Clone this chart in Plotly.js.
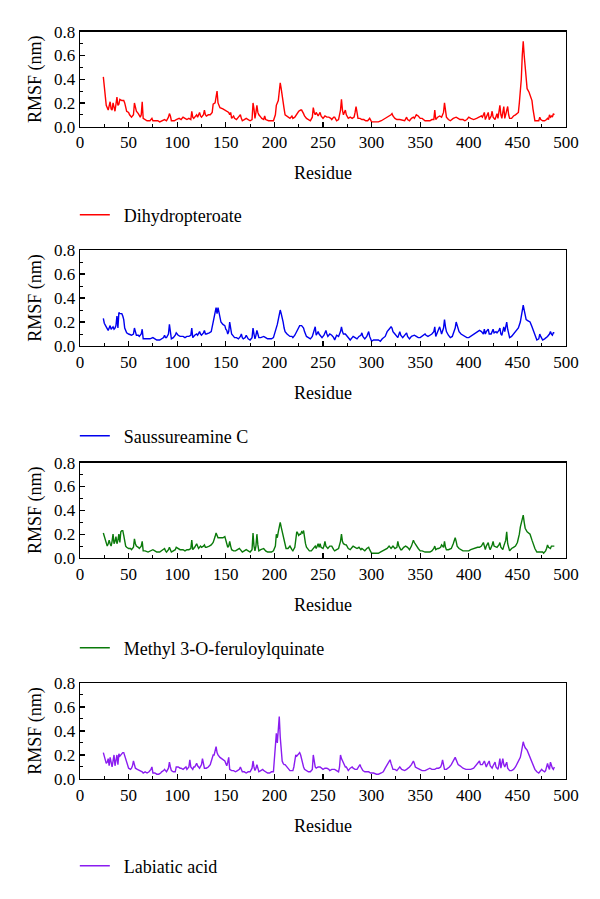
<!DOCTYPE html>
<html>
<head>
<meta charset="utf-8">
<script src="https://cdn.plot.ly/plotly-3.0.1.min.js"></script>
<style>html,body{margin:0;padding:0;background:#fff;}#chart{width:600px;height:899px;}</style>
</head>
<body>
<div id="chart"></div>
<script>
// [residue, RMSF (nm)] readings
const dihydropteroate = [[24,.42],[26,.25],[27,.18],[29,.14],[31,.21],[32,.15],[33,.14],[34,.20],[36,.13],[38,.25],[39,.18],[40,.19],[41,.23],[43,.22],[45,.22],[46,.2],[47,.15],[48,.13],[50,.12],[51,.1],[53,.08],[54,.09],[55,.1],[56,.2],[57,.15],[58,.13],[60,.11],[62,.08],[63,.1],[64,.21],[65,.07],[67,.06],[69,.05],[72,.05],[74,.07],[75,.05],[77,.05],[80,.05],[82,.04],[85,.05],[87,.06],[89,.05],[91,.08],[92,.11],[93,.09],[94,.05],[97,.05],[99,.06],[102,.07],[104,.06],[106,.08],[108,.07],[110,.06],[112,.07],[114,.06],[115,.13],[116,.08],[117,.07],[119,.09],[120,.1],[121,.08],[123,.12],[124,.09],[125,.08],[127,.1],[128,.14],[129,.1],[130,.09],[132,.1],[134,.1],[136,.12],[137,.19],[139,.2],[140,.25],[141,.3],[142,.2],[143,.17],[144,.16],[147,.15],[149,.14],[151,.13],[153,.12],[154,.1],[155,.12],[156,.07],[158,.09],[159,.07],[161,.06],[163,.08],[165,.1],[166,.07],[167,.05],[169,.06],[171,.07],[173,.06],[175,.05],[177,.06],[178,.2],[179,.15],[180,.07],[181,.12],[182,.18],[183,.12],[184,.1],[186,.08],[187,.07],[189,.06],[190,.09],[191,.06],[194,.05],[197,.05],[199,.05],[201,.1],[202,.18],[204,.22],[205,.3],[206,.37],[207,.32],[208,.25],[209,.2],[210,.15],[211,.1],[213,.09],[215,.08],[216,.07],[218,.09],[219,.07],[221,.08],[223,.11],[225,.13],[227,.14],[228,.14],[230,.11],[231,.09],[233,.07],[235,.06],[237,.05],[239,.08],[240,.16],[241,.12],[242,.1],[243,.12],[245,.09],[247,.12],[248,.09],[250,.07],[252,.09],[254,.08],[256,.08],[258,.07],[259,.06],[261,.08],[262,.08],[264,.05],[266,.06],[268,.14],[269,.23],[270,.14],[271,.1],[273,.14],[274,.1],[276,.07],[278,.08],[280,.07],[282,.08],[283,.12],[284,.17],[285,.12],[286,.07],[288,.07],[290,.06],[292,.06],[294,.05],[296,.05],[298,.07],[300,.04],[303,.04],[305,.04],[307,.04],[310,.05],[312,.06],[315,.07],[318,.09],[320,.1],[321,.11],[322,.09],[324,.07],[326,.06],[329,.06],[332,.05],[334,.05],[336,.08],[337,.06],[339,.05],[341,.07],[343,.08],[344,.07],[346,.1],[348,.09],[350,.07],[352,.07],[355,.05],[358,.05],[360,.05],[362,.06],[364,.06],[365,.14],[366,.06],[368,.08],[370,.09],[372,.08],[374,.12],[375,.2],[376,.12],[377,.08],[379,.06],[381,.05],[384,.07],[387,.08],[389,.07],[391,.06],[394,.06],[396,.05],[398,.06],[400,.08],[402,.07],[405,.06],[408,.07],[411,.08],[413,.09],[414,.08],[416,.12],[417,.06],[418,.08],[419,.09],[420,.12],[421,.06],[423,.09],[424,.13],[425,.08],[427,.06],[428,.09],[429,.11],[430,.07],[431,.12],[432,.18],[433,.1],[434,.07],[435,.12],[436,.17],[437,.07],[438,.1],[439,.12],[440,.17],[441,.1],[442,.07],[444,.07],[446,.09],[448,.1],[450,.11],[451,.12],[452,.2],[454,.4],[455,.6],[456,.72],[457,.6],[458,.5],[459,.4],[460,.32],[462,.29],[463,.27],[465,.22],[466,.15],[467,.08],[468,.05],[470,.05],[472,.05],[473,.08],[474,.06],[476,.05],[478,.05],[480,.06],[481,.07],[482,.06],[483,.1],[484,.08],[485,.09],[486,.08],[487,.11],[488,.1]];

const saussureamineC = [[24,.23],[25,.19],[27,.16],[29,.13],[30,.15],[31,.17],[32,.14],[33,.15],[34,.16],[35,.14],[36,.15],[37,.17],[38,.25],[39,.15],[40,.28],[41,.27],[42,.27],[43,.27],[44,.25],[45,.22],[46,.15],[47,.12],[48,.11],[50,.1],[52,.09],[53,.09],[55,.1],[56,.15],[57,.12],[58,.09],[60,.09],[61,.08],[63,.1],[64,.14],[65,.06],[67,.06],[70,.06],[72,.06],[75,.07],[77,.06],[79,.05],[82,.05],[84,.06],[86,.07],[87,.09],[88,.07],[89,.07],[91,.1],[92,.18],[93,.13],[94,.06],[96,.07],[98,.09],[99,.11],[101,.09],[103,.08],[106,.08],[108,.07],[110,.08],[112,.08],[114,.09],[115,.15],[116,.07],[118,.09],[120,.1],[121,.09],[123,.12],[124,.1],[125,.09],[127,.11],[128,.13],[129,.1],[130,.1],[133,.11],[135,.12],[137,.2],[138,.25],[139,.3],[140,.32],[141,.27],[142,.32],[143,.28],[144,.22],[145,.2],[147,.18],[149,.17],[150,.14],[151,.13],[152,.1],[153,.12],[154,.2],[155,.13],[156,.1],[158,.08],[159,.07],[161,.07],[163,.06],[165,.08],[166,.1],[167,.07],[168,.06],[170,.07],[171,.09],[173,.06],[175,.05],[177,.07],[178,.15],[179,.1],[180,.06],[181,.09],[182,.13],[183,.1],[184,.07],[186,.07],[188,.08],[189,.08],[191,.07],[193,.06],[195,.06],[197,.06],[199,.07],[201,.12],[203,.18],[204,.22],[205,.27],[206,.3],[207,.27],[208,.24],[209,.2],[210,.15],[211,.12],[213,.1],[215,.09],[216,.08],[218,.08],[219,.07],[221,.09],[223,.12],[225,.15],[226,.17],[228,.17],[230,.15],[231,.12],[233,.08],[235,.07],[237,.06],[239,.08],[241,.14],[242,.16],[243,.09],[245,.12],[246,.1],[248,.08],[249,.07],[251,.09],[253,.13],[254,.1],[255,.08],[257,.1],[259,.09],[261,.07],[262,.05],[264,.09],[266,.08],[268,.12],[269,.16],[270,.12],[271,.1],[273,.1],[274,.09],[276,.07],[278,.05],[280,.07],[281,.08],[283,.07],[285,.06],[287,.08],[289,.09],[290,.11],[291,.08],[293,.06],[295,.08],[297,.12],[298,.08],[300,.04],[302,.05],[305,.05],[307,.05],[309,.04],[311,.06],[314,.08],[316,.12],[318,.14],[320,.16],[321,.15],[322,.12],[324,.1],[326,.08],[327,.07],[329,.12],[330,.09],[332,.07],[334,.09],[336,.11],[337,.08],[339,.06],[341,.08],[344,.09],[346,.08],[348,.07],[350,.07],[352,.08],[355,.1],[356,.09],[358,.08],[360,.09],[362,.1],[364,.12],[365,.16],[366,.08],[368,.12],[370,.16],[371,.13],[372,.1],[374,.15],[375,.22],[376,.16],[377,.12],[379,.09],[381,.07],[383,.08],[384,.1],[386,.15],[387,.2],[388,.17],[390,.12],[392,.1],[394,.09],[396,.08],[398,.07],[400,.07],[402,.08],[405,.1],[407,.11],[409,.12],[411,.13],[413,.12],[415,.1],[416,.14],[417,.1],[418,.12],[420,.14],[421,.1],[423,.1],[424,.12],[425,.14],[426,.11],[428,.12],[429,.11],[431,.13],[432,.15],[433,.1],[434,.09],[435,.12],[436,.16],[437,.12],[439,.2],[440,.14],[442,.07],[444,.08],[446,.1],[448,.12],[450,.14],[451,.15],[453,.2],[454,.25],[455,.3],[456,.34],[457,.3],[458,.25],[459,.22],[461,.21],[463,.2],[465,.16],[466,.14],[468,.1],[470,.05],[472,.06],[473,.1],[474,.08],[476,.05],[478,.06],[480,.07],[481,.08],[483,.1],[484,.12],[485,.1],[486,.09],[487,.11],[488,.11]];

const methylFeruloylquinate = [[24,.21],[25,.18],[27,.13],[28,.1],[29,.12],[30,.15],[31,.12],[32,.1],[33,.14],[34,.2],[35,.12],[36,.14],[37,.18],[38,.12],[39,.15],[40,.2],[41,.13],[42,.22],[43,.23],[44,.23],[45,.19],[46,.13],[47,.1],[48,.09],[50,.08],[52,.08],[53,.07],[55,.09],[56,.16],[57,.12],[58,.1],[60,.09],[61,.08],[63,.1],[64,.14],[65,.06],[67,.06],[70,.05],[72,.06],[75,.07],[77,.06],[79,.05],[82,.05],[84,.06],[86,.07],[87,.08],[88,.06],[89,.05],[91,.07],[92,.09],[93,.07],[94,.05],[96,.06],[98,.07],[99,.09],[101,.08],[103,.07],[106,.07],[108,.06],[110,.07],[112,.07],[114,.08],[115,.15],[116,.07],[118,.09],[120,.12],[121,.09],[122,.08],[124,.1],[125,.09],[127,.1],[128,.11],[129,.09],[130,.09],[133,.1],[135,.11],[137,.13],[138,.15],[139,.18],[140,.21],[141,.19],[142,.17],[143,.17],[145,.17],[147,.17],[149,.18],[150,.14],[151,.1],[152,.09],[153,.1],[154,.14],[155,.1],[156,.07],[158,.06],[160,.06],[162,.07],[164,.08],[165,.07],[167,.05],[169,.06],[171,.07],[173,.06],[175,.05],[177,.07],[178,.21],[179,.1],[180,.06],[181,.1],[182,.2],[183,.11],[184,.06],[186,.07],[188,.08],[189,.08],[191,.06],[193,.05],[195,.05],[197,.05],[199,.06],[201,.1],[202,.2],[203,.17],[204,.22],[205,.27],[206,.3],[207,.26],[208,.22],[209,.18],[210,.13],[211,.1],[212,.08],[214,.08],[215,.09],[216,.1],[218,.07],[219,.06],[221,.09],[222,.17],[223,.22],[224,.21],[225,.19],[226,.2],[227,.2],[228,.22],[229,.21],[230,.23],[231,.16],[232,.12],[233,.09],[235,.07],[236,.06],[238,.06],[240,.08],[242,.1],[243,.08],[245,.12],[246,.09],[247,.12],[248,.09],[250,.08],[251,.1],[252,.14],[253,.1],[255,.08],[257,.1],[259,.1],[261,.07],[262,.06],[264,.07],[266,.08],[268,.14],[269,.2],[270,.14],[271,.12],[273,.11],[274,.11],[276,.08],[278,.07],[280,.09],[281,.1],[283,.09],[285,.08],[287,.09],[289,.07],[290,.08],[292,.07],[293,.06],[295,.08],[297,.09],[298,.07],[300,.04],[302,.04],[305,.04],[307,.04],[309,.05],[312,.06],[314,.07],[316,.08],[318,.1],[320,.08],[321,.09],[322,.1],[324,.08],[326,.09],[327,.14],[328,.1],[330,.07],[331,.07],[333,.09],[335,.1],[337,.09],[339,.07],[341,.1],[343,.15],[344,.13],[346,.1],[348,.08],[350,.06],[352,.06],[355,.05],[358,.05],[360,.05],[362,.06],[364,.08],[365,.1],[366,.07],[368,.08],[369,.08],[371,.09],[372,.11],[374,.09],[375,.14],[376,.09],[377,.07],[379,.07],[381,.08],[382,.08],[384,.12],[386,.17],[387,.14],[388,.1],[390,.08],[392,.07],[394,.06],[396,.06],[398,.06],[400,.06],[402,.07],[405,.08],[407,.08],[409,.09],[411,.09],[413,.1],[415,.13],[416,.09],[417,.07],[418,.1],[420,.13],[421,.09],[422,.07],[424,.11],[425,.14],[426,.1],[428,.09],[429,.09],[431,.11],[432,.13],[433,.09],[435,.07],[436,.1],[437,.12],[438,.15],[439,.22],[440,.12],[442,.06],[444,.08],[446,.09],[448,.1],[450,.13],[451,.16],[452,.2],[453,.26],[454,.3],[455,.33],[456,.36],[457,.3],[458,.25],[460,.22],[462,.21],[463,.2],[465,.15],[466,.12],[468,.08],[470,.05],[472,.05],[474,.05],[476,.05],[477,.04],[479,.06],[480,.08],[481,.11],[482,.09],[483,.08],[484,.08],[485,.1],[486,.1],[487,.1],[488,.1]];

const labiaticAcid = [[24,.22],[25,.18],[26,.14],[27,.13],[28,.14],[29,.17],[30,.11],[31,.18],[32,.14],[33,.1],[34,.15],[35,.2],[36,.11],[37,.15],[38,.2],[39,.12],[40,.21],[41,.19],[42,.2],[43,.21],[44,.22],[45,.22],[46,.19],[47,.18],[48,.15],[49,.12],[50,.09],[52,.08],[53,.09],[54,.11],[55,.15],[56,.12],[57,.09],[59,.08],[62,.07],[64,.06],[65,.05],[67,.06],[69,.05],[71,.06],[73,.08],[74,.1],[75,.05],[77,.05],[79,.04],[81,.04],[83,.05],[84,.06],[86,.07],[87,.08],[88,.07],[89,.06],[91,.09],[92,.14],[93,.1],[94,.07],[96,.06],[98,.06],[99,.1],[101,.1],[103,.09],[104,.09],[106,.08],[108,.09],[109,.1],[110,.08],[112,.1],[113,.16],[114,.1],[116,.08],[117,.1],[118,.1],[120,.13],[121,.11],[122,.1],[123,.09],[125,.12],[126,.17],[127,.13],[128,.09],[130,.09],[132,.1],[134,.12],[135,.15],[137,.2],[138,.2],[139,.24],[140,.27],[141,.22],[142,.2],[144,.18],[146,.17],[148,.16],[149,.15],[150,.13],[151,.11],[152,.14],[153,.18],[154,.08],[156,.07],[158,.07],[160,.06],[162,.07],[164,.08],[165,.1],[166,.08],[167,.06],[169,.06],[171,.05],[173,.06],[175,.06],[177,.09],[178,.15],[179,.1],[180,.07],[181,.09],[182,.12],[183,.09],[184,.06],[186,.07],[188,.08],[189,.07],[191,.06],[193,.05],[195,.05],[197,.06],[199,.06],[200,.15],[201,.3],[202,.38],[203,.3],[204,.4],[205,.52],[206,.35],[207,.25],[208,.15],[209,.13],[210,.12],[211,.12],[212,.11],[213,.1],[215,.08],[216,.07],[218,.07],[219,.07],[220,.1],[221,.15],[222,.2],[223,.19],[224,.2],[225,.21],[226,.22],[227,.2],[228,.16],[229,.15],[230,.1],[231,.08],[233,.07],[235,.06],[237,.06],[239,.08],[240,.2],[241,.14],[242,.1],[243,.09],[245,.1],[247,.1],[248,.09],[250,.08],[252,.09],[254,.09],[256,.08],[257,.07],[259,.08],[261,.08],[262,.08],[264,.07],[266,.06],[267,.1],[268,.2],[269,.17],[270,.15],[271,.13],[273,.1],[274,.1],[276,.07],[278,.09],[280,.1],[281,.09],[283,.08],[285,.08],[286,.09],[288,.12],[289,.1],[291,.07],[293,.06],[295,.06],[297,.06],[299,.05],[300,.05],[302,.05],[305,.04],[307,.04],[310,.05],[312,.06],[314,.09],[316,.12],[318,.14],[319,.16],[320,.13],[322,.08],[324,.08],[326,.07],[328,.09],[329,.1],[331,.08],[333,.07],[334,.07],[336,.08],[338,.09],[339,.1],[341,.12],[343,.15],[344,.13],[345,.1],[347,.09],[349,.08],[350,.08],[352,.07],[355,.07],[357,.08],[360,.09],[362,.08],[365,.08],[367,.09],[369,.09],[371,.1],[372,.12],[373,.16],[374,.1],[375,.08],[377,.08],[379,.09],[380,.1],[382,.12],[384,.15],[386,.18],[387,.16],[389,.12],[391,.11],[394,.09],[397,.08],[400,.08],[402,.08],[405,.09],[406,.1],[408,.12],[410,.14],[411,.15],[412,.12],[414,.12],[416,.15],[417,.11],[418,.1],[419,.12],[421,.15],[422,.11],[424,.09],[425,.11],[427,.14],[428,.1],[430,.08],[431,.12],[432,.17],[433,.09],[434,.12],[435,.17],[436,.12],[437,.1],[438,.12],[439,.14],[440,.09],[442,.07],[444,.07],[446,.08],[448,.1],[450,.13],[452,.16],[453,.18],[454,.22],[455,.27],[456,.31],[457,.28],[458,.26],[460,.24],[461,.22],[463,.18],[465,.15],[466,.12],[468,.08],[470,.06],[472,.05],[473,.06],[475,.08],[476,.07],[478,.06],[479,.07],[480,.1],[481,.13],[482,.1],[483,.08],[484,.14],[485,.1],[486,.09],[487,.08],[488,.1]];

const seriesNames = ['Dihydropteroate', 'Saussureamine C', 'Methyl 3-O-feruloylquinate', 'Labiatic acid'];
const seriesData = [dihydropteroate, saussureamineC, methylFeruloylquinate, labiaticAcid];
const xTickVals = [0, 50, 100, 150, 200, 250, 300, 350, 400, 450, 500];
const yTickVals = [0, 0.2, 0.4, 0.6, 0.8];
const xTitle = 'Residue';
const yTitle = 'RMSF (nm)';

const colors = ['#ff0000', '#0000ee', '#0a7a0a', '#8a1cf0'];
const yDomains = [[0.8591, 0.9647], [0.6151, 0.7219], [0.3793, 0.4853], [0.1335, 0.2403]];
const legendY = [0.7608, 0.515, 0.2792, 0.0367];

const FONT = 'Liberation Serif, Times New Roman, serif';
const traces = [];
const layout = {
  width: 600, height: 899,
  margin: {l: 0, r: 0, t: 0, b: 0},
  paper_bgcolor: '#fff', plot_bgcolor: '#fff',
  font: {family: FONT, color: '#000', size: 17},
  showlegend: true
};

seriesData.forEach((d, i) => {
  const n = i === 0 ? '' : String(i + 1);
  traces.push({
    type: 'scatter', mode: 'lines',
    x: d.map(p => p[0]), y: d.map(p => p[1]),
    name: '\u00a0\u00a0' + seriesNames[i],
    line: {color: colors[i], width: 1.4},
    xaxis: 'x' + n, yaxis: 'y' + n,
    legend: 'legend' + n
  });
  layout['xaxis' + n] = {
    domain: [80/600, 566/600], anchor: 'y' + n, range: [0, 500],
    tickvals: xTickVals, ticks: 'inside', ticklen: 5, tickwidth: 1.2, tickcolor: '#000',
    minor: {dtick: 25, tick0: 0, ticks: 'inside', ticklen: 3, tickcolor: '#000', tickwidth: 1},
    showline: true, mirror: true, linecolor: '#000', linewidth: 1.3,
    showgrid: false, zeroline: false,
    tickfont: {family: FONT, size: 17, color: '#000'},
    title: {text: xTitle, font: {family: FONT, size: 18, color: '#000'}, standoff: 15}
  };
  layout['yaxis' + n] = {
    domain: yDomains[i], anchor: 'x' + n, range: [0, 0.8],
    tickvals: yTickVals, tickformat: '.1f', ticks: 'inside', ticklen: 5, tickwidth: 1.2, tickcolor: '#000',
    minor: {dtick: 0.1, tick0: 0, ticks: 'inside', ticklen: 3, tickcolor: '#000', tickwidth: 1},
    showline: true, mirror: true, linecolor: '#000', linewidth: 1.3,
    showgrid: false, zeroline: false,
    tickfont: {family: FONT, size: 17, color: '#000'},
    title: {text: yTitle, font: {family: FONT, size: 18, color: '#000'}, standoff: 7}
  };
  layout['legend' + n] = {
    x: 0.1247, y: legendY[i], xanchor: 'left', yanchor: 'middle',
    bgcolor: 'rgba(0,0,0,0)', borderwidth: 0,
    font: {family: FONT, size: 18, color: '#000'}
  };
});

Plotly.newPlot('chart', traces, layout, {displayModeBar: false, staticPlot: true});
</script>
</body>
</html>
